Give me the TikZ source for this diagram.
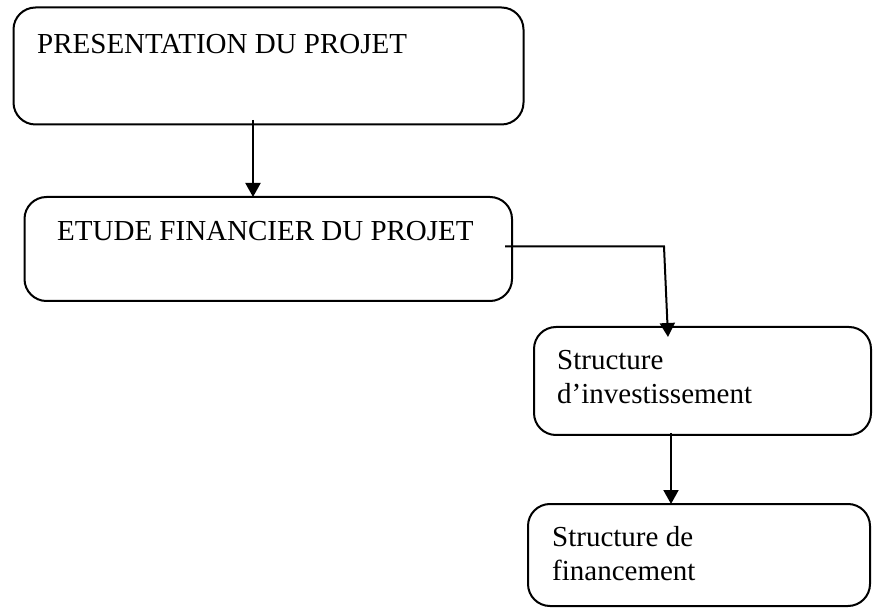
\documentclass[tikz,border=0pt]{standalone}
\usepackage{fontspec}
\setmainfont{Liberation Serif}
\usetikzlibrary{arrows.meta}
\begin{document}
\begin{tikzpicture}[x=1pt,y=-1pt,
  box/.style={draw,line width=2pt,rounded corners=22pt,anchor=north west,
    inner sep=0pt,outer sep=0pt},
  lbl/.style={anchor=base west,inner sep=0pt,align=left,
    font=\fontsize{29}{33.8}\selectfont},
  arr/.style={line width=2pt,-{Triangle[length=14pt,width=15pt]}}]
\useasboundingbox (0,0) rectangle (873,609);

% boxes
\node[box,minimum width=510pt,minimum height=117pt] (b1) at (13.5,7.5) {};
\node[box,minimum width=487.5pt,minimum height=104pt] (b2) at (24.5,197) {};
\node[box,minimum width=337pt,minimum height=108pt] (b3) at (534,327) {};
\node[box,minimum width=342pt,minimum height=102pt] (b4) at (528,504) {};

% labels
\node[lbl] (t1) at (37,54) {PRESENTATION DU PROJET};
\node[lbl] (t2) at (57,241) {ETUDE FINANCIER DU PROJET};
\node[lbl] (t3a) at (557,370) {Structure};
\node[lbl] (t3b) at (557,404) {d’investissement};
\node[lbl] (t4a) at (552,546) {Structure de};
\node[lbl] (t4b) at (552,580) {financement};

% connector ends
\coordinate (s1) at (253,120);
\coordinate (s2) at (505,246.5);
\coordinate (k2) at (664,246.5);
\coordinate (e2) at (668,337);
\coordinate (s3) at (671,433);

% connectors
\draw[arr] (s1) -- (s1 |- b2.north);
\draw[arr] (s2) -- (k2) -- (e2);
\draw[arr] (s3) -- (s3 |- b4.north);
\end{tikzpicture}
\end{document}
